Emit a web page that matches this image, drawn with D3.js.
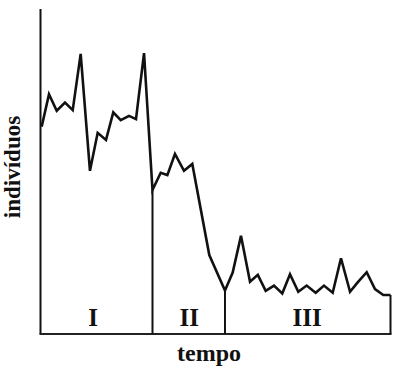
<!DOCTYPE html>
<html><head><meta charset="utf-8">
<script src="https://cdn.jsdelivr.net/npm/d3@7"></script>
<style>body{margin:0;background:#fff}svg{display:block}</style>
</head><body>
<svg id="c" width="400" height="374"></svg>
<script>
const tempo = [0,0.88,1.81,2.81,3.74,4.70,5.82,6.75,7.75,8.63,9.53,10.53,11.37,12.34,13.36,14.35,15.15,16.07,17.16,18.16,20.21,22.10,23.03,24.03,25.12,26.06,27.01,28.01,29.01,29.94,30.94,31.95,33.04,34.04,35.09,36.09,37.18,38.10,39.19,40.19,41.19,42.06];
const individuos = [63.8,73.8,68.7,71.2,68.9,86.2,50.2,61.9,59.7,68.2,65.8,67.1,66.1,86.4,44.3,49.6,48.9,55.4,50.2,52.3,24.3,13.4,18.9,30.2,16.1,18.2,13.3,14.9,12.5,18.4,13.0,14.9,12.7,14.9,12.7,23.3,13.0,15.9,19.0,13.8,12.0,12.0];
const phaseEnds = [14, 21, 41];          // indices of points where each phase ends
const phaseLabels = ["I","II","III"];
const phaseLabelPos = [6.19, 17.8, 32.0];

const svg = d3.select("#c");
const x = d3.scaleLinear().domain([0,42]).range([41.7,390]);
const y = d3.scaleLinear().domain([0,100]).range([334,9]);

// axes
svg.append("line").attr("x1",40.5).attr("x2",40.5).attr("y1",y(100)).attr("y2",334)
  .attr("stroke","#111").attr("stroke-width",2);
svg.append("line").attr("x1",39.5).attr("x2",391.5).attr("y1",334).attr("y2",334)
  .attr("stroke","#222").attr("stroke-width",2);

// phase dividers
phaseEnds.forEach(i=>{
  svg.append("line").attr("x1",x(tempo[i])).attr("x2",x(tempo[i]))
    .attr("y1",y(individuos[i])).attr("y2",334)
    .attr("stroke","#111").attr("stroke-width",2);
});

// line
const pts = tempo.map((t,i)=>[t,individuos[i]]);
svg.append("path").datum(pts)
  .attr("d", d3.line().x(d=>x(d[0])).y(d=>y(d[1])))
  .attr("fill","none").attr("stroke","#111").attr("stroke-width",2.6)
  .attr("stroke-linejoin","miter");

// phase labels
svg.selectAll(".pl").data(phaseLabels).enter().append("text")
  .attr("x",(d,i)=>x(phaseLabelPos[i])).attr("y",326)
  .attr("text-anchor","middle")
  .style("font-family","'Liberation Serif','Times New Roman',serif")
  .style("font-weight","bold").style("font-size","25px").attr("fill","#111")
  .text(d=>d);

// axis titles
svg.append("text").attr("x",209).attr("y",361).attr("text-anchor","middle")
  .style("font-family","'Liberation Serif','Times New Roman',serif")
  .style("font-weight","bold").style("font-size","24px").attr("fill","#111")
  .text("tempo");
svg.append("text").attr("transform","translate(19.5,167) rotate(-90)")
  .attr("text-anchor","middle")
  .style("font-family","'Liberation Serif','Times New Roman',serif")
  .style("font-weight","bold").style("font-size","23px").attr("fill","#111")
  .text("indivíduos");
</script>
</body></html>
